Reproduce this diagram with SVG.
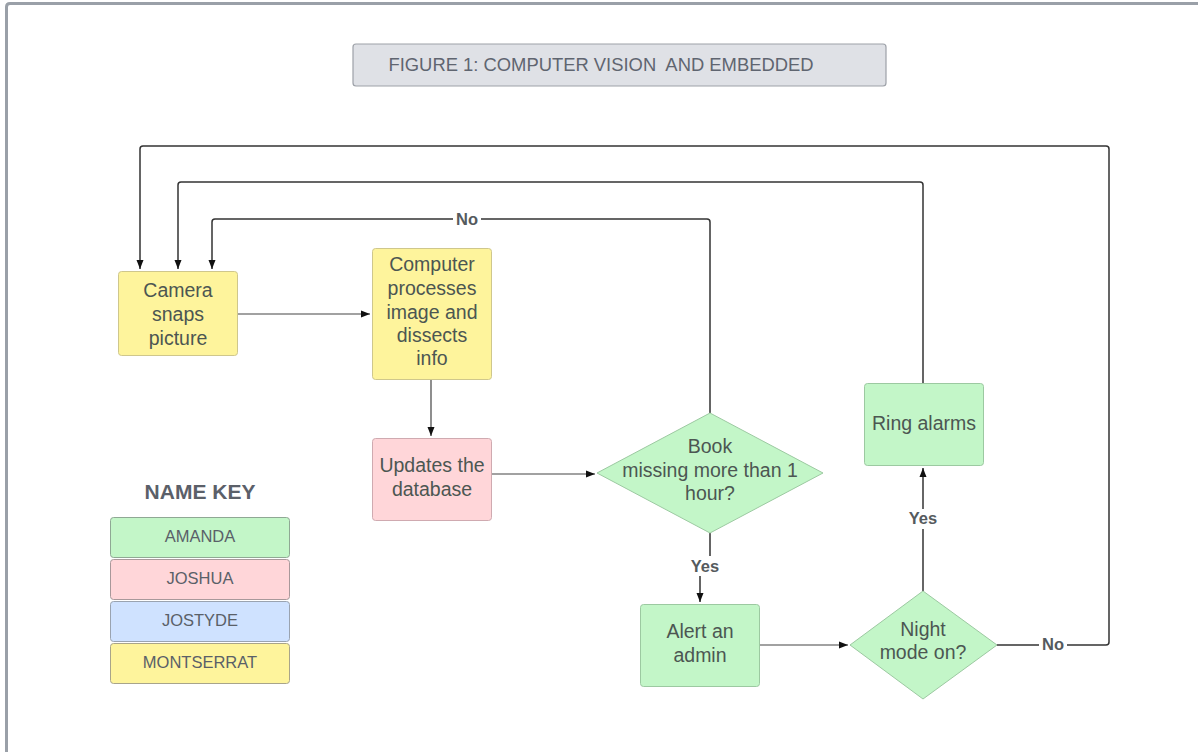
<svg xmlns="http://www.w3.org/2000/svg" width="1198" height="752" viewBox="0 0 1198 752">
<style>
.t{font-family:"Liberation Sans",Arial,sans-serif;font-size:19.5px;fill:#4c5652;text-anchor:middle}
.k{font-family:"Liberation Sans",Arial,sans-serif;font-size:16.5px;fill:#5a6068;text-anchor:middle}
.lbl{font-family:"Liberation Sans",Arial,sans-serif;font-size:16.5px;font-weight:bold;fill:#555a5e;text-anchor:middle}
.y{fill:#fef49c;stroke:#cfc78c;stroke-width:1}
.g{fill:#c3f6c8;stroke:#9cc9a1;stroke-width:1}
.p{fill:#ffd6d9;stroke:#cfaab0;stroke-width:1}
.b{fill:#cfe2ff;stroke:#9aa3b0;stroke-width:1}
.ky{fill:#fef49c;stroke:#a8a48a;stroke-width:1}
.kg{fill:#c3f6c8;stroke:#8fa894;stroke-width:1}
.kp{fill:#ffd6d9;stroke:#a8989a;stroke-width:1}
.c{fill:none;stroke:#444;stroke-width:1.2}
.c2{fill:none;stroke:#333;stroke-width:1.5}
</style>
<defs>
<marker id="ah" markerWidth="10" markerHeight="8" refX="9" refY="4" orient="auto" markerUnits="userSpaceOnUse">
<path d="M0,0.5 L9,4 L0,7.5 Z" fill="#111"/>
</marker>
</defs>
<rect width="1198" height="752" fill="#fff"/>
<path d="M6.5,752 V7 Q6.5,3.5 10,3.5 H1198" fill="none" stroke="#9aa0a8" stroke-width="3"/>

<g id="title">
<rect x="353" y="44" width="533" height="42" rx="3" fill="#dfe1e6" stroke="#9da1a8" stroke-width="1.2"/>
<text x="601" y="70.5" xml:space="preserve" style="font-family:'Liberation Sans',Arial,sans-serif;font-size:18.4px;fill:#5f6570;text-anchor:middle">FIGURE 1: COMPUTER VISION  AND EMBEDDED</text>
</g>

<g id="connectors">
<path class="c" d="M238,314 H370" marker-end="url(#ah)"/>
<path class="c" d="M431,380 V436" marker-end="url(#ah)"/>
<path class="c" d="M491,474 H595" marker-end="url(#ah)"/>
<path class="c2" d="M710,413 V222 Q710,219 707,219 H215 Q212,219 212,222 V269" marker-end="url(#ah)"/>
<path class="c2" d="M710,533 V566 H700 V602" marker-end="url(#ah)"/>
<path class="c" d="M760,645 H848" marker-end="url(#ah)"/>
<path class="c2" d="M923,591 V468" marker-end="url(#ah)"/>
<path class="c2" d="M923,383 V185 Q923,182 920,182 H181 Q178,182 178,185 V269" marker-end="url(#ah)"/>
<path class="c2" d="M997,645 H1106 Q1109,645 1109,642 V149 Q1109,146 1106,146 H143 Q140,146 140,149 V269" marker-end="url(#ah)"/>
<rect x="453" y="210" width="28" height="18" fill="#fff"/>
<text class="lbl" x="467" y="225">No</text>
<rect x="688" y="556" width="36" height="20" fill="#fff"/>
<text class="lbl" x="705" y="572">Yes</text>
<rect x="905" y="509" width="36" height="20" fill="#fff"/>
<text class="lbl" x="923" y="524">Yes</text>
<rect x="1039" y="635" width="28" height="18" fill="#fff"/>
<text class="lbl" x="1053" y="650">No</text>
</g>

<g id="camera">
<rect class="y" x="118.5" y="271.5" width="119" height="84" rx="3"/>
<text class="t" x="178" y="297">Camera</text>
<text class="t" x="178" y="321">snaps</text>
<text class="t" x="178" y="345">picture</text>
</g>

<g id="computer">
<rect class="y" x="372.5" y="248.5" width="119" height="131" rx="3"/>
<text class="t" x="432" y="271">Computer</text>
<text class="t" x="432" y="295">processes</text>
<text class="t" x="432" y="319">image and</text>
<text class="t" x="432" y="342">dissects</text>
<text class="t" x="432" y="365">info</text>
</g>

<g id="updates">
<rect class="p" x="372.5" y="438.5" width="119" height="82" rx="3"/>
<text class="t" x="432" y="472">Updates the</text>
<text class="t" x="432" y="496">database</text>
</g>

<g id="book">
<path class="g" d="M710,413 L823,473 L710,533 L597,473 Z"/>
<text class="t" x="710" y="453">Book</text>
<text class="t" x="710" y="477">missing more than 1</text>
<text class="t" x="710" y="500">hour?</text>
</g>

<g id="alert">
<rect class="g" x="640.5" y="604.5" width="119" height="82" rx="3"/>
<text class="t" x="700" y="638">Alert an</text>
<text class="t" x="700" y="662">admin</text>
</g>

<g id="night">
<path class="g" d="M923,591 L997,645 L923,699 L850,645 Z"/>
<text class="t" x="923" y="636">Night</text>
<text class="t" x="923" y="659">mode on?</text>
</g>

<g id="ring">
<rect class="g" x="864.5" y="383.5" width="119" height="82" rx="3"/>
<text class="t" x="924" y="430">Ring alarms</text>
</g>

<g id="namekey">
<text x="200" y="499" style="font-family:'Liberation Sans',Arial,sans-serif;font-size:21px;font-weight:bold;fill:#5b6069;text-anchor:middle">NAME KEY</text>
<rect class="kg" x="110.5" y="517.5" width="179" height="40" rx="3"/>
<text class="k" x="200" y="542">AMANDA</text>
<rect class="kp" x="110.5" y="559.5" width="179" height="40" rx="3"/>
<text class="k" x="200" y="584">JOSHUA</text>
<rect class="b" x="110.5" y="601.5" width="179" height="40" rx="3"/>
<text class="k" x="200" y="626">JOSTYDE</text>
<rect class="ky" x="110.5" y="643.5" width="179" height="40" rx="3"/>
<text class="k" x="200" y="668">MONTSERRAT</text>
</g>
</svg>
